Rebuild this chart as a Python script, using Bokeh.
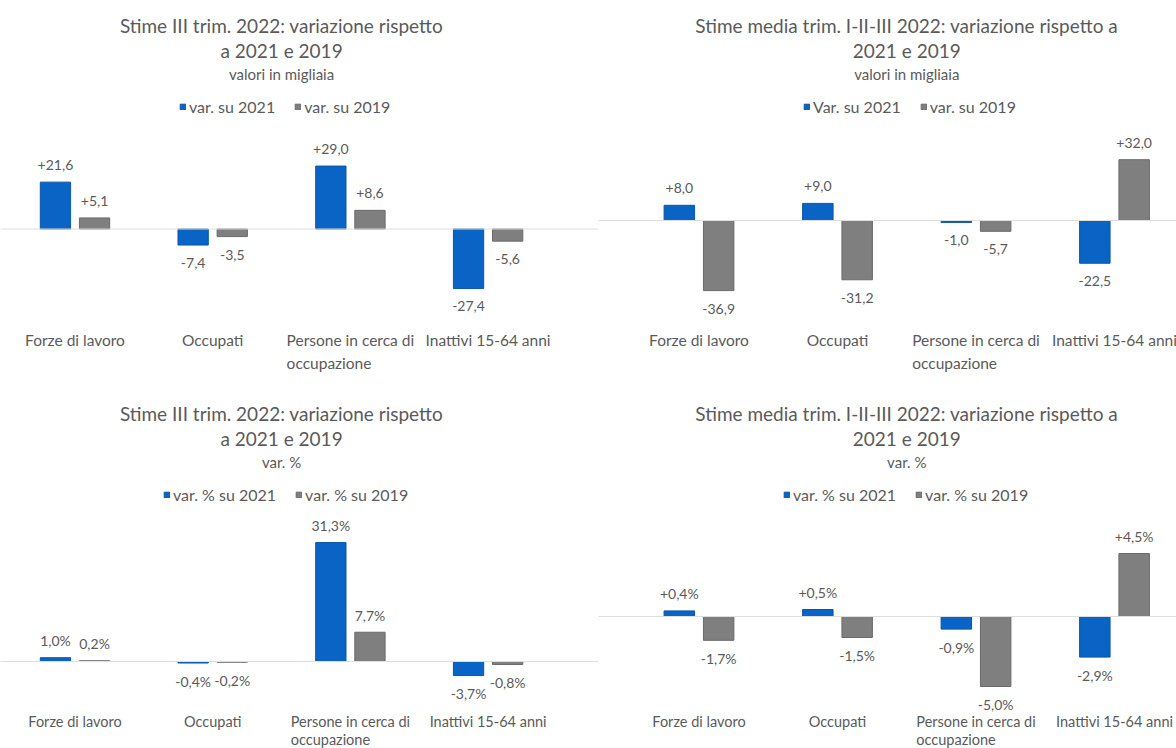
from bokeh.plotting import figure
from bokeh.models import (Range1d, ColumnDataSource, LabelSet, Label, Legend,
                          LegendItem, Span)
from bokeh.layouts import column, row
from bokeh.embed import file_html
from bokeh.resources import INLINE
from bokeh.core.properties import value

# ---------------- data ----------------
categories = ["Forze di lavoro", "Occupati", "Persone in cerca di\noccupazione",
              "Inattivi 15-64 anni"]

# Panel 1: III trim. 2022, valori in migliaia
p1_su2021 = [21.6, -7.4, 29.0, -27.4]
p1_su2019 = [5.1, -3.5, 8.6, -5.6]
# Panel 2: media trim. I-II-III 2022, valori in migliaia
p2_su2021 = [8.0, 9.0, -1.0, -22.5]
p2_su2019 = [-36.9, -31.2, -5.7, 32.0]
# Panel 3: III trim. 2022, var. %
p3_su2021 = [1.0, -0.4, 31.3, -3.7]
p3_su2019 = [0.2, -0.2, 7.7, -0.8]
# Panel 4: media trim. I-II-III 2022, var. %
p4_su2021 = [0.4, 0.5, -0.9, -2.9]
p4_su2019 = [-1.7, -1.5, -5.0, 4.5]

title_a = ["Stime III trim. 2022: variazione rispetto", "a 2021 e 2019"]
title_b = ["Stime media trim. I-II-III 2022: variazione rispetto a", "2021 e 2019"]
sub_abs = "valori in migliaia"
sub_pct = "var. %"
legend_p1 = ["var. su 2021", "var. su 2019"]
legend_p2 = ["Var. su 2021", "var. su 2019"]
legend_pct = ["var. % su 2021", "var. % su 2019"]

# ---------------- style ----------------
FONT = "Lato"
TXT = "#5a5a5a"
BLUE = "#0a64c6"
BLUE_EDGE = "#0a55a8"
GRAY = "#7f7f7f"
GRAY_EDGE = "#6a6a6a"


def fmt(v, plus, pct):
    s = f"{abs(v):.1f}".replace(".", ",")
    if v < 0:
        s = "-" + s
    elif plus and v > 0:
        s = "+" + s
    return s + ("%" if pct else "")


def panel(va, vb, leg, title, sub, plus, pct, W, H, cat0_px, step_px,
          zero_px, ppu, legend_x, cat_y, cat_lh, cat_fs):
    n = len(categories)
    x_range = Range1d(-cat0_px / step_px, (W - cat0_px) / step_px)
    y_range = Range1d(-(H - zero_px) / ppu, zero_px / ppu)
    p = figure(width=W, height=H, x_range=x_range, y_range=y_range,
               output_backend="svg", toolbar_location=None,
               x_axis_type=None, y_axis_type=None, min_border=0)
    p.grid.visible = False
    p.outline_line_color = None
    p.background_fill_color = "white"
    p.border_fill_color = "white"

    p.add_layout(Span(location=0, dimension="width", line_color="#dedede",
                      line_width=1))

    idx = list(range(n))
    d = 0.142
    bw = 0.22
    src = ColumnDataSource(dict(
        x=idx,
        cat=categories,
        xa=[i - d for i in idx],
        xb=[i + d for i in idx],
        va=va, vb=vb,
        ta=[fmt(v, plus, pct) for v in va],
        tb=[fmt(v, plus, pct) for v in vb],
        oa=[17 if v >= 0 else -18 for v in va],
        ob=[17 if v >= 0 else -18 for v in vb],
    ))
    ra = p.vbar(x="xa", top="va", bottom=0, width=bw, source=src,
                fill_color=BLUE, line_color=BLUE_EDGE, line_width=1)
    rb = p.vbar(x="xb", top="vb", bottom=0, width=bw, source=src,
                fill_color=GRAY, line_color=GRAY_EDGE, line_width=1)

    for xf, vf, tf, of in (("xa", "va", "ta", "oa"), ("xb", "vb", "tb", "ob")):
        p.add_layout(LabelSet(x=xf, y=vf, text=tf, y_offset=of, source=src,
                              text_align="center", text_baseline="middle",
                              text_font=value(FONT), text_font_size="14px",
                              text_color=TXT))

    # category labels below the plot area
    p.add_layout(LabelSet(x="x", y=H - cat_y, y_units="screen", text="cat",
                          source=src, text_align="center", text_baseline="top",
                          text_font=value(FONT), text_font_size=cat_fs,
                          text_color=TXT, text_line_height=cat_lh))

    # titles
    xc = (n - 1) / 2
    p.add_layout(Label(x=xc, y=H - 25, y_units="screen", text=title[0],
                       text_align="center", text_baseline="middle",
                       text_font=FONT, text_font_size="19px", text_color=TXT))
    p.add_layout(Label(x=xc, y=H - 50, y_units="screen", text=title[1],
                       text_align="center", text_baseline="middle",
                       text_font=FONT, text_font_size="19px", text_color=TXT))
    p.add_layout(Label(x=xc, y=H - 73, y_units="screen", text=sub,
                       text_align="center", text_baseline="middle",
                       text_font=FONT, text_font_size="15px", text_color=TXT))

    legend = Legend(items=[LegendItem(label=leg[0], renderers=[ra]),
                           LegendItem(label=leg[1], renderers=[rb])],
                    orientation="horizontal", location=(legend_x, H - 108 - 8),
                    glyph_width=7, glyph_height=7, label_standoff=3,
                    spacing=19, padding=0, margin=0, label_height=16,
                    border_line_color=None, background_fill_alpha=0,
                    label_text_font=FONT, label_text_font_size="16px",
                    label_text_color=TXT)
    p.add_layout(legend)
    return p


WL, WR = 598, 578
HT, HB = 388, 360

f1 = panel(p1_su2021, p1_su2019, legend_p1, title_a, sub_abs, True, False,
           WL, HT, 74.5, 137.7, 228.5, 2.17, 179, 330, 1.3, "15.5px")
f2 = panel(p2_su2021, p2_su2019, legend_p2, title_b, sub_abs, True, False,
           WR, HT, 100.5, 138.5, 220, 1.9, 205, 330, 1.3, "15.5px")
f3 = panel(p3_su2021, p3_su2019, legend_pct, title_a, sub_pct, False, True,
           WL, HB, 74.5, 137.7, 273, 3.8, 163, 324, 1.08, "14.5px")
f4 = panel(p4_su2021, p4_su2019, legend_pct, title_b, sub_pct, True, True,
           WR, HB, 100.5, 138.5, 228, 14.0, 185, 324, 1.08, "14.5px")

layout = column(row(f1, f2), row(f3, f4))
open("out.html", "w").write(file_html(layout, INLINE))
